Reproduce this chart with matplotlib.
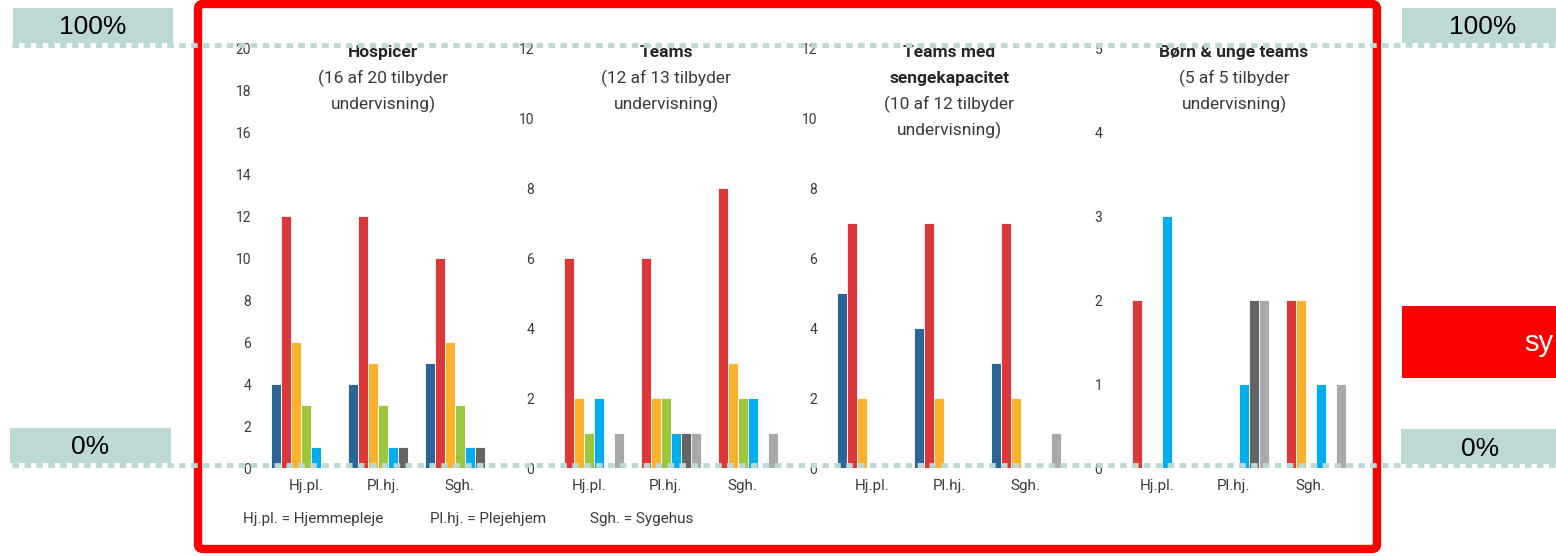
import matplotlib.pyplot as plt
import numpy as np
from matplotlib.patches import Rectangle, FancyBboxPatch

plt.rcParams['font.family'] = ['Roboto', 'DejaVu Sans']

# grupper og serier
groups = ['Hj.pl.', 'Pl.hj.', 'Sgh.']
colors = ['#2b6596', '#dc3839', '#fdb12a', '#9dc63c', '#00aeef', '#636466', '#a7a9ac']

# værdier pr. panel: en række pr. gruppe, en kolonne pr. farve
hospicer = [[4, 12, 6, 3, 1, 0, 0],
            [4, 12, 5, 3, 1, 1, 0],
            [5, 10, 6, 3, 1, 1, 0]]
teams = [[0, 6, 2, 1, 2, 0, 1],
         [0, 6, 2, 2, 1, 1, 1],
         [0, 8, 3, 2, 2, 0, 1]]
teams_seng = [[5, 7, 2, 0, 0, 0, 0],
              [4, 7, 2, 0, 0, 0, 0],
              [3, 7, 2, 0, 0, 0, 1]]
boern = [[0, 2, 0, 0, 3, 0, 0],
         [0, 0, 0, 0, 1, 2, 2],
         [0, 2, 2, 0, 1, 0, 1]]

panels = [
    (hospicer, 20, 2, ['Hospicer'], ['(16 af 20 tilbyder', 'undervisning)']),
    (teams, 12, 2, ['Teams'], ['(12 af 13 tilbyder', 'undervisning)']),
    (teams_seng, 12, 2, ['Teams med', 'sengekapacitet'], ['(10 af 12 tilbyder', 'undervisning)']),
    (boern, 5, 1, ['Børn & unge teams'], ['(5 af 5 tilbyder', 'undervisning)']),
]

W, H = 1556, 556
fig = plt.figure(figsize=(W / 100, H / 100), dpi=100)

lefts = [268, 551, 834, 1119]
ax_w = 230
ax_bottom = 468
ax_top = 48
ax_h = ax_bottom - ax_top
bw = 0.13
txt = '#3a3a3a'

for (vals, ymax, ystep, title, sub), lx in zip(panels, lefts):
    ax = fig.add_axes([lx / W, (H - ax_bottom) / H, ax_w / W, ax_h / H])
    vals = np.array(vals)
    x = np.arange(len(groups))
    for i, c in enumerate(colors):
        h = vals[:, i]
        m = h > 0
        ax.bar(x[m] + (i - 3) * bw, h[m], width=bw, color=c, edgecolor='white', linewidth=0.6)
    ax.set_xlim(-0.5, 2.5)
    ax.set_ylim(0, ymax)
    ax.set_yticks(np.arange(0, ymax + 0.1, ystep))
    ax.set_xticks(x)
    ax.set_xticklabels(groups, fontsize=11, color=txt)
    ax.tick_params(axis='y', length=0, labelsize=10, labelcolor=txt, pad=12)
    ax.tick_params(axis='x', length=0, pad=8)
    for s in ax.spines.values():
        s.set_visible(False)
    # titellinjer, grundlinje hver 26 px fra y=57
    lines = [(t, 'bold', '#262626') for t in title] + [(t, 'normal', txt) for t in sub]
    for k, (t, wgt, col) in enumerate(lines):
        ypx = 57 + 26 * k
        ax.text(0.5, 1 - (ypx - ax_top) / ax_h, t, transform=ax.transAxes, ha='center',
                va='baseline', fontsize=12.5, fontweight=wgt, color=col)

# forklaring nederst
for px, s in zip([243, 430, 590], ['Hj.pl. = Hjemmepleje', 'Pl.hj. = Plejehjem', 'Sgh. = Sygehus']):
    fig.text(px / W, (H - 519) / H, s, fontsize=11, color=txt, va='center', ha='left')

# overlay i pixelkoordinater
ov = fig.add_axes([0, 0, 1, 1], zorder=10)
ov.set_xlim(0, W)
ov.set_ylim(H, 0)
ov.axis('off')
ov.patch.set_alpha(0)

teal = '#bcd9d5'
for y in [45, 465]:
    ov.plot([12, W], [y, y], color=teal, lw=3.5, linestyle=(0, (1.35, 1.1)), solid_capstyle='butt')

boxes = [(13, 8, 160, 35, '100%', 93), (10, 428, 161, 35, '0%', 90),
         (1402, 8, 160, 35, '100%', 1483), (1401, 429, 160, 35, '0%', 1480)]
for bx, by, bwid, bh, s, cx in boxes:
    ov.add_patch(Rectangle((bx, by), bwid, bh, facecolor=teal, edgecolor='none'))
    ov.text(cx, by + bh / 2 + 2, s, ha='center', va='center', fontsize=19,
            family=['Liberation Sans', 'DejaVu Sans'], color='black')

ov.add_patch(Rectangle((1402, 306), 160, 72, facecolor='#ff0000', edgecolor='none'))
ov.text(1524, 343, 'sy', ha='left', va='center', fontsize=21, color='white',
        family=['Liberation Sans', 'DejaVu Sans'])

ov.add_patch(FancyBboxPatch((198, 4), 1179, 545, boxstyle='round,pad=0,rounding_size=5',
                            facecolor='none', edgecolor='#ff0000', linewidth=6))

fig.savefig('out.png', dpi=100)
